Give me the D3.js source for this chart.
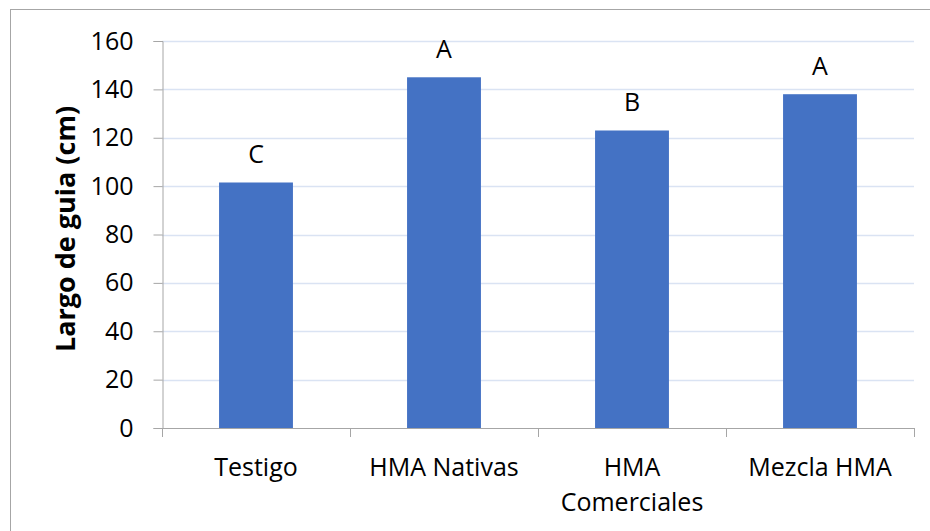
<!DOCTYPE html>
<html>
<head>
<meta charset="utf-8">
<script src="https://cdn.jsdelivr.net/npm/d3@7"></script>
<style>
  body { margin: 0; background: #fff; }
  svg text { font-family: "Open Sans", sans-serif; fill: #000; }
</style>
</head>
<body>
<div id="chart"></div>
<script>
const categories = ["Testigo", "HMA Nativas", "HMA Comerciales", "Mezcla HMA"];
const categoryLines = [["Testigo"], ["HMA Nativas"], ["HMA", "Comerciales"], ["Mezcla HMA"]];
const values = [101.5, 145, 123, 138];
const letters = ["C", "A", "B", "A"];
const yTicks = [0, 20, 40, 60, 80, 100, 120, 140, 160];

const width = 930, height = 531;
const margin = {top: 41, right: 16, bottom: 103, left: 162};
const fontSize = "25px";

const svg = d3.select("#chart").append("svg")
    .attr("width", width)
    .attr("height", height);

// chart frame
svg.append("rect")
    .attr("x", 10.5).attr("y", 9.5)
    .attr("width", width).attr("height", height)
    .attr("fill", "none")
    .attr("stroke", "#a6a6a6");

const x = d3.scaleBand()
    .domain(categories)
    .range([margin.left, width - margin.right])
    .paddingInner(0.607)
    .paddingOuter(0.3035);

const y = d3.scaleLinear()
    .domain([0, 160])
    .range([height - margin.bottom, margin.top]);

// gridlines
svg.append("g")
    .selectAll("line")
    .data(yTicks.filter(d => d > 0))
    .join("line")
    .attr("x1", margin.left).attr("x2", width - margin.right)
    .attr("y1", d => Math.round(y(d)) + 0.5).attr("y2", d => Math.round(y(d)) + 0.5)
    .attr("stroke", "#dae3f3")
    .attr("stroke-width", 1.5);

// bars
svg.append("g")
    .selectAll("rect")
    .data(values)
    .join("rect")
    .attr("x", (d, i) => x(categories[i]))
    .attr("y", d => y(d))
    .attr("width", x.bandwidth())
    .attr("height", d => y(0) - y(d))
    .attr("fill", "#4472c4");

// significance letters
svg.append("g")
    .selectAll("text")
    .data(values)
    .join("text")
    .attr("x", (d, i) => x(categories[i]) + x.bandwidth() / 2)
    .attr("y", d => y(d) - 19)
    .attr("text-anchor", "middle")
    .style("font-size", fontSize)
    .text((d, i) => letters[i]);

// y axis
const yAxis = d3.axisLeft(y).tickValues(yTicks).tickSize(9).tickPadding(20);
const gy = svg.append("g")
    .attr("transform", "translate(" + (margin.left + 0.5) + ",0)")
    .call(yAxis);
gy.selectAll("line, path").attr("stroke", "#a6a6a6");
gy.selectAll("text").style("font-size", fontSize).attr("fill", "#000");

// x axis
const xEdges = d3.range(categories.length + 1).map(i =>
    margin.left + i * (width - margin.right - margin.left) / categories.length);
const gx = svg.append("g");
gx.append("line")
    .attr("x1", margin.left).attr("x2", width - margin.right)
    .attr("y1", y(0) + 0.5).attr("y2", y(0) + 0.5)
    .attr("stroke", "#a6a6a6");
gx.selectAll(".tick")
    .data(xEdges)
    .join("line")
    .attr("class", "tick")
    .attr("x1", d => Math.round(d) + 0.5).attr("x2", d => Math.round(d) + 0.5)
    .attr("y1", y(0)).attr("y2", y(0) + 9)
    .attr("stroke", "#a6a6a6");

const labels = gx.selectAll(".lbl")
    .data(categoryLines)
    .join("text")
    .attr("class", "lbl")
    .attr("text-anchor", "middle")
    .attr("x", (d, i) => x(categories[i]) + x.bandwidth() / 2)
    .attr("y", 476)
    .style("font-size", fontSize);
labels.selectAll("tspan")
    .data((d, i) => d.map(t => ({t, cx: x(categories[i]) + x.bandwidth() / 2})))
    .join("tspan")
    .attr("x", d => d.cx)
    .attr("dy", (d, j) => j === 0 ? 0 : 35)
    .text(d => d.t);

// y title
svg.append("text")
    .attr("transform", "translate(75,229) rotate(-90)")
    .attr("text-anchor", "middle")
    .style("font-size", "27px")
    .style("font-weight", "bold")
    .text("Largo de guia (cm)");
</script>
</body>
</html>
